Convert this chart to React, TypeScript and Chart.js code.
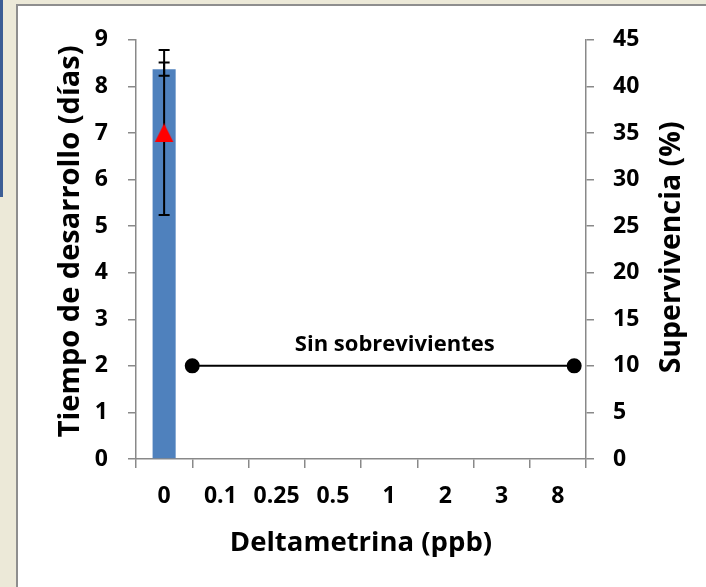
import React, { useEffect, useRef } from "react";
import { Chart, registerables } from "chart.js";

Chart.register(...registerables);

// Deltametrina concentrations (ppb)
const categories = ["0", "0.1", "0.25", "0.5", "1", "2", "3", "8"];

// Development time (days), mean and standard error
const devTime = [8.37, null, null, null, null, null, null, null];
const devTimeErr = [0.14, null, null, null, null, null, null, null];

// Survival (%), mean with lower / upper error
const survival = [35, null, null, null, null, null, null, null];
const survivalErrLow = [8.8, null, null, null, null, null, null, null];
const survivalErrHigh = [8.9, null, null, null, null, null, null, null];

// "No survivors" marker line, in category-index units on x and days on y
const noSurvivorsX = [0.5, 7.29];
const noSurvivorsY = [2, 2];
const noSurvivorsLabel = "Sin sobrevivientes";
const noSurvivorsLabelX = 4.1;
const noSurvivorsLabelY = 2.45;

// Axis ranges and titles
const daysMin = 0;
const daysMax = 9;
const daysStep = 1;
const survMin = 0;
const survMax = 45;
const survStep = 5;
const xTitle = "Deltametrina (ppb)";
const daysTitle = "Tiempo de desarrollo (días)";
const survTitle = "Supervivencia (%)";

const FONT = "'Open Sans', 'Noto Sans', sans-serif";
const AXIS_GRAY = "#898989";

// Red upward triangle marker
function makeTriangle(): HTMLCanvasElement {
  const c = document.createElement("canvas");
  c.width = 20;
  c.height = 19;
  const g = c.getContext("2d")!;
  g.fillStyle = "#FF0000";
  g.beginPath();
  g.moveTo(10, 0);
  g.lineTo(19.5, 19);
  g.lineTo(0.5, 19);
  g.closePath();
  g.fill();
  return c;
}

const overlayPlugin = {
  id: "overlay",
  afterDatasetDraw(chart: any, args: any) {
    if (args.index !== 0) return;
    const ctx = chart.ctx;
    const x = chart.scales.x;
    const y = chart.scales.y;
    const y2 = chart.scales.y2;
    const cap = 5.5;
    ctx.save();
    ctx.strokeStyle = "#000";
    ctx.lineWidth = 2;
    const seg = (px: number, a: number, b: number) => {
      ctx.beginPath();
      ctx.moveTo(px, a);
      ctx.lineTo(px, b);
      ctx.moveTo(px - cap, a);
      ctx.lineTo(px + cap, a);
      ctx.moveTo(px - cap, b);
      ctx.lineTo(px + cap, b);
      ctx.stroke();
    };
    categories.forEach((_, i) => {
      const px = x.getPixelForValue(i);
      const m = devTime[i];
      const e = devTimeErr[i];
      if (m != null && e != null) {
        seg(px, y.getPixelForValue(m - e), y.getPixelForValue(m + e));
      }
      const s = survival[i];
      const lo = survivalErrLow[i];
      const hi = survivalErrHigh[i];
      if (s != null && lo != null && hi != null) {
        seg(px, y2.getPixelForValue(s - lo), y2.getPixelForValue(s + hi));
      }
    });
    ctx.restore();
  },
  afterDatasetsDraw(chart: any) {
    const ctx = chart.ctx;
    const xl = chart.scales.xLin;
    const y = chart.scales.y;
    const y2 = chart.scales.y2;
    const area = chart.chartArea;
    const midY = (area.top + area.bottom) / 2;
    ctx.save();
    ctx.fillStyle = "#000";
    ctx.textAlign = "center";
    ctx.textBaseline = "middle";
    ctx.font = `bold 22px ${FONT}`;
    ctx.fillText(
      noSurvivorsLabel,
      xl.getPixelForValue(noSurvivorsLabelX),
      y.getPixelForValue(noSurvivorsLabelY)
    );
    // vertical axis titles, both reading bottom to top
    const vTitle = (text: string, size: number, cx: number, cy: number) => {
      ctx.save();
      ctx.translate(cx, cy);
      ctx.rotate(-Math.PI / 2);
      ctx.font = `bold ${size}px ${FONT}`;
      ctx.fillText(text, 0, 0);
      ctx.restore();
    };
    vTitle(daysTitle, 29, y.left + 54, midY - 8);
    vTitle(survTitle, 28.5, y2.right - 34.5, midY - 2);
    ctx.restore();
  },
};

export default function App() {
  const canvasRef = useRef<HTMLCanvasElement | null>(null);

  useEffect(() => {
    const canvas = canvasRef.current;
    if (!canvas) return;
    const tickFont = { family: FONT, size: 23, weight: "bold" as const };
    const gridOpts = {
      drawOnChartArea: false,
      drawTicks: true,
      tickLength: 8,
      color: AXIS_GRAY,
      lineWidth: 1.5,
    };

    const chart = new Chart(canvas, {
      type: "bar",
      data: {
        labels: categories,
        datasets: [
          {
            type: "bar",
            label: "Tiempo de desarrollo",
            data: devTime as any,
            backgroundColor: "#4F81BD",
            borderWidth: 0,
            grouped: false,
            categoryPercentage: 1,
            barPercentage: 0.41,
            yAxisID: "y",
            xAxisID: "x",
            order: 3,
          },
          {
            type: "line",
            label: "Sin sobrevivientes",
            data: noSurvivorsX.map((v, i) => ({ x: v, y: noSurvivorsY[i] })) as any,
            borderColor: "#000",
            borderWidth: 2,
            pointRadius: 6.5,
            pointBackgroundColor: "#000",
            pointBorderColor: "#000",
            pointStyle: "circle",
            yAxisID: "y",
            xAxisID: "xLin",
            order: 2,
          },
          {
            type: "scatter",
            label: "Supervivencia",
            data: survival
              .map((v, i) => (v == null ? null : { x: i, y: v }))
              .filter((p) => p != null) as any,
            showLine: false,
            pointStyle: makeTriangle(),
            pointRadius: 10,
            yAxisID: "y2",
            xAxisID: "xLin",
            order: 1,
          },
        ],
      },
      options: {
        animation: false,
        responsive: false,
        maintainAspectRatio: false,
        layout: { padding: { top: 29, left: 0, right: 0, bottom: 0 } },
        plugins: {
          legend: { display: false },
          tooltip: { enabled: false },
        },
        scales: {
          x: {
            type: "category",
            offset: true,
            grid: { ...gridOpts, offset: true, tickLength: 9 },
            border: { color: AXIS_GRAY, width: 1.5 },
            ticks: { color: "#000", font: tickFont, padding: 15, maxRotation: 0 },
            title: {
              display: true,
              text: xTitle,
              color: "#000",
              font: { family: FONT, size: 27.5, weight: "bold" },
              padding: { top: 0, bottom: 27 },
            },
            afterFit: (s: any) => {
              s.height = 128;
            },
          },
          xLin: {
            type: "linear",
            min: -0.5,
            max: categories.length - 0.5,
            offset: false,
            display: false,
          },
          y: {
            type: "linear",
            position: "left",
            min: daysMin,
            max: daysMax,
            ticks: { stepSize: daysStep, color: "#000", font: tickFont, padding: 20 },
            grid: gridOpts,
            border: { color: AXIS_GRAY, width: 1.5 },
            afterFit: (s: any) => {
              s.width = 119;
            },
          },
          y2: {
            type: "linear",
            position: "right",
            min: survMin,
            max: survMax,
            ticks: { stepSize: survStep, color: "#000", font: tickFont, padding: 19 },
            grid: gridOpts,
            border: { color: AXIS_GRAY, width: 1.5 },
            afterFit: (s: any) => {
              s.width = 120;
            },
          },
        },
      } as any,
      plugins: [overlayPlugin],
    });
    return () => chart.destroy();
  }, []);

  return (
    <div
      style={{
        position: "fixed",
        left: 0,
        top: 0,
        width: 706,
        height: 587,
        background: "#ECE9D8",
        overflow: "hidden",
      }}
    >
      <div
        style={{
          position: "absolute",
          left: 0,
          top: 0,
          width: 3,
          height: 197,
          background: "#3C5E95",
        }}
      />
      <div
        style={{
          position: "absolute",
          left: 16,
          top: 4,
          right: 0,
          bottom: 0,
          background: "#fff",
          borderLeft: "2px solid #8E8E8E",
          borderTop: "2px solid #8E8E8E",
        }}
      />
      <canvas
        ref={canvasRef}
        width={689}
        height={581}
        style={{ position: "absolute", left: 17, top: 6, width: 689, height: 581 }}
      />
    </div>
  );
}
